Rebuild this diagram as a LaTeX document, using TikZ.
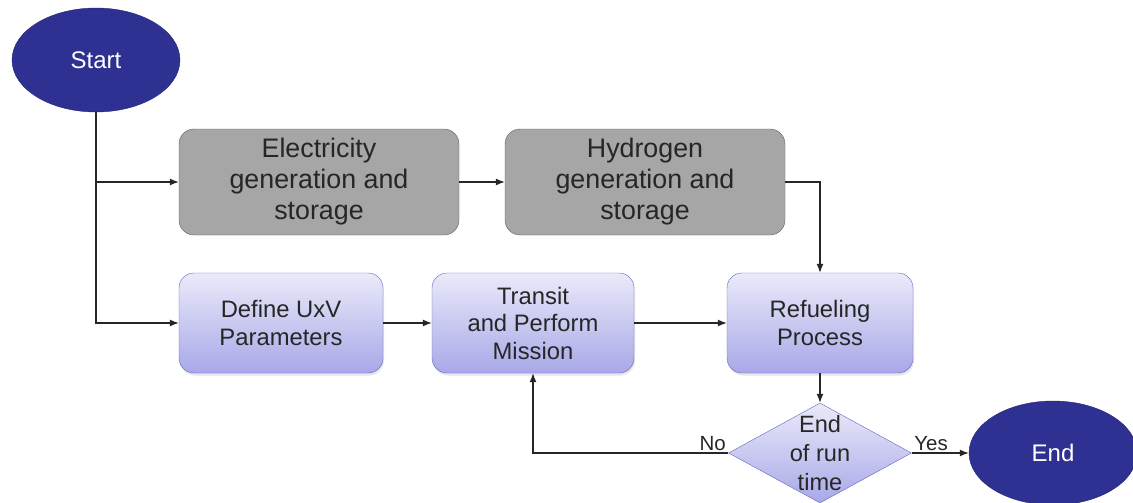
\documentclass[tikz,border=0pt]{standalone}
\usepackage{fontspec}
\setmainfont{Liberation Sans}
\usetikzlibrary{arrows,arrows.meta,positioning,calc}
\usetikzlibrary{shapes.geometric,shadows}

\definecolor{termblue}{RGB}{46,49,146}
\definecolor{boxgray}{RGB}{166,166,166}
\definecolor{topblue}{RGB}{234,234,250}
\definecolor{botblue}{RGB}{168,168,232}
\definecolor{edgeblue}{RGB}{100,100,196}

\tikzset{
  terminal/.style={ellipse, draw=termblue!80!black, fill=termblue, text=white,
    minimum width=168pt, minimum height=104pt, font=\fontsize{24}{28}\selectfont},
  supply/.style={rounded corners=15pt, draw=gray!75!black, fill=boxgray, text=black!85,
    minimum width=280pt, minimum height=106pt, align=center, font=\fontsize{26.8}{31}\selectfont},
  process/.style={rounded corners=15pt, draw=edgeblue, top color=topblue, bottom color=botblue,
    text=black!85, minimum height=100pt, align=center, font=\fontsize{23.8}{27.5}\selectfont,
    drop shadow={opacity=0.2, shadow xshift=1pt, shadow yshift=-2.5pt}},
  decision/.style={diamond, draw=edgeblue, top color=topblue, bottom color=botblue,
    minimum width=183pt, minimum height=100pt, inner sep=0pt},
  flow/.style={-{Latex[length=9pt,width=7pt]}, line width=1.2pt, black!85},
  answer/.style={font=\fontsize{20.5}{22}\selectfont, text=black!85, inner sep=2pt}
}

\begin{document}
\begin{tikzpicture}[x=1pt,y=-1pt]
  \useasboundingbox (0,0) rectangle (1133,503);

  \node[terminal] (start) at (96,60) {Start};
  \node[supply] (elec) at (319,182) {Electricity\\generation and\\storage};
  \node[supply] (hydro) at (645,182) {Hydrogen\\generation and\\storage};
  \node[process, minimum width=204pt] (define) at (281,323) {Define UxV\\Parameters};
  \node[process, minimum width=202pt] (transit) at (533,323) {Transit\\and Perform\\Mission};
  \node[process, minimum width=186pt] (refuel) at (820,323) {Refueling\\Process};
  \node[decision] (check) at (820,453) {};
  \node[align=center, text=black!85, font=\fontsize{23.6}{29}\selectfont] (checktext) at (check) {End\\of run\\time};
  \node[terminal] (finish) at (1053,453) {End};

  \draw[flow] (start.south) |- (elec.west);
  \draw[flow] (start.south) |- (define.west);
  \draw[flow] (elec) -- (hydro);
  \draw[flow] (hydro.east) -| (refuel.north);
  \draw[flow] (define) -- (transit);
  \draw[flow] (transit) -- (refuel);
  \draw[flow] (refuel) -- (check);
  \draw[flow] (check.west) -| node[answer, pos=0, above left] {No} (transit.south);
  \draw[flow] (check.east) -- node[answer, pos=0, above right] {Yes} (finish.west);
\end{tikzpicture}
\end{document}
